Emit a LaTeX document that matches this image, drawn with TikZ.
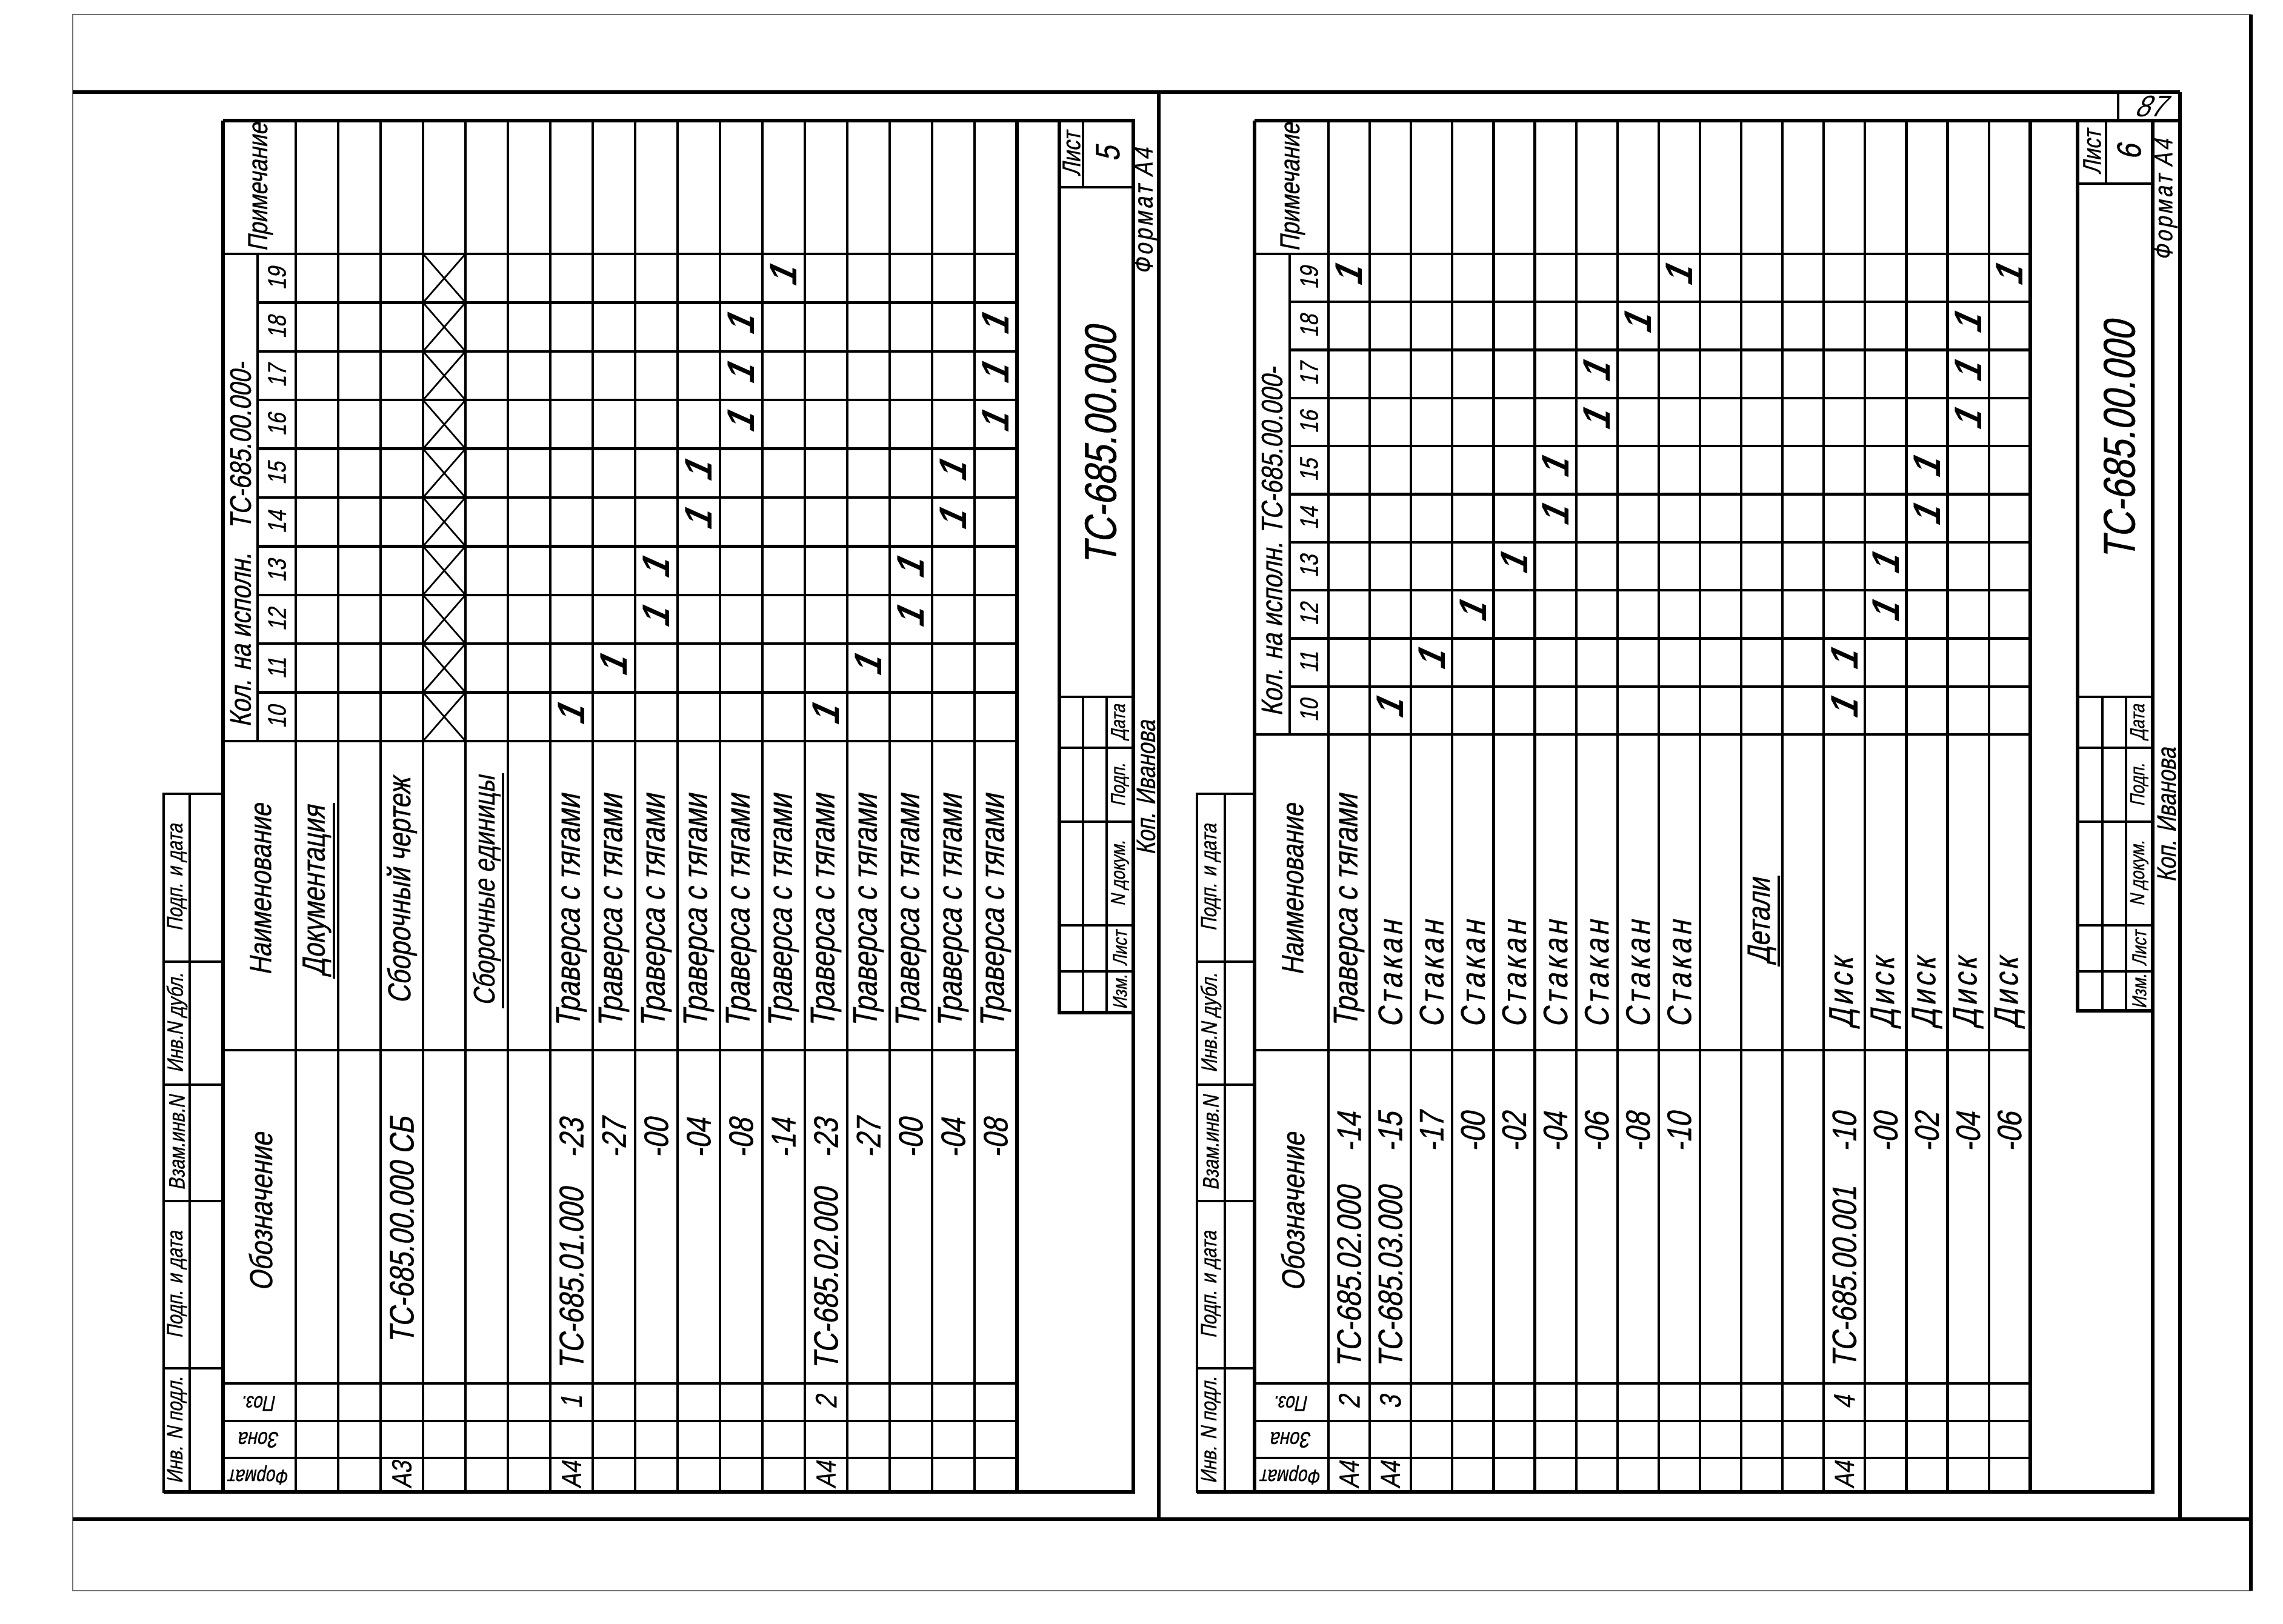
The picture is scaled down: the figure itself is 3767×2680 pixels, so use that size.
\documentclass[tikz,border=0pt]{standalone}
\usepackage{fontspec}
\newfontfamily\gost[FakeStretch=0.8,FakeSlant=0.2,FakeBold=0.5]{Liberation Sans}
\newfontfamily\gostwide[FakeStretch=0.8,FakeSlant=0.2,FakeBold=0.5,LetterSpace=10]{Liberation Sans}
\newfontfamily\gosthand[FakeStretch=0.9,FakeSlant=0.45]{Liberation Sans}
\newcommand{\gfs}[1]{\gost\fontsize{#1}{#1}\selectfont}
\newcommand{\gws}[1]{\gostwide\fontsize{#1}{#1}\selectfont}
\usetikzlibrary{positioning}

\begin{document}
\begin{tikzpicture}[x=0.1mm,y=-0.1mm]
  \tikzstyle{grid} = [line width=1.2pt]
  \tikzstyle{frame} = [line width=1.5pt]
  \tikzstyle{cross} = [line width=0.8pt]
  \tikzstyle{paper} = [line width=0.7pt,black!55]
  \tikzstyle{vtext} = [rotate=90,inner sep=1pt]
  \tikzstyle{udtext} = [rotate=180,inner sep=0pt]
  \tikzstyle{qty} = [rotate=90,inner sep=0pt,font=\gosthand\bfseries\fontsize{18}{18}\selectfont]
  \tikzstyle{uline} = [line width=1.1pt]
  %%
  \useasboundingbox (0,0) rectangle (3767,2680);
  \fill[white] (0,0) rectangle (3767,2680);
  %% paper edge and outer frame
  \draw[paper] (120,24) rectangle (3714,2625);
  \draw[frame] (3714,24) -- (3714,2625);
  \draw[frame] (120,152) -- (3597,152);
  \draw[frame] (120,2507) -- (3714,2507);
  \draw[frame] (1912,152) -- (1912,2507);
  \draw[frame] (3597,152) -- (3597,2507);
  %%
  %% ------------------------- sheet 5 -------------------------
  \begin{scope}
    % frame, table, stamp
    \draw[frame] (368,199) -- (1870,199) -- (1870,2462) -- (270,2462);
    \draw[frame] (368,199) -- (368,2462);
    \draw[frame] (1678,199) -- (1678,2462);
    \draw[grid] (488,199) -- (488,2462);
    \draw[grid] (425,419) -- (425,1223);
    \foreach \r in {1,...,16}
      \draw[grid] ({488+70*\r},199) -- ({488+70*\r},2462);
    \foreach \y in {419,1223,1733,2283,2345,2406}
      \draw[grid] (368,\y) -- (1678,\y);
    \foreach \c in {1,...,9}
      \draw[grid] (425,{419+80.4*\c}) -- (1678,{419+80.4*\c});
    % strip
    \draw[grid] (270,1310) rectangle (313,2462);
    \draw[grid] (313,1310) -- (368,1310);
    \foreach \y in {1587,1790,1982,2258}
      \draw[grid] (270,\y) -- (368,\y);
    % stamp
    \draw[frame] (1748,199) rectangle (1870,1671);
    \draw[grid] (1748,309) -- (1870,309);
    \draw[grid] (1787,199) -- (1787,309);
    \foreach \y in {1150,1234,1356,1527,1603}
      \draw[grid] (1748,\y) -- (1870,\y);
    \draw[grid] (1787,1150) -- (1787,1671);
    \draw[grid] (1826,1150) -- (1826,1671);
    % crossed cells
    \foreach \c in {0,...,9}
      \draw[cross] (698,{419+80.4*\c}) -- (768,{499.4+80.4*\c})
                   (698,{499.4+80.4*\c}) -- (768,{419+80.4*\c});
    %% header
    \node[vtext,font=\gfs{13}] (lprim) at (430,309) {Примечание};
    \node[vtext,font=\gfs{14},anchor=west] (lkol) at (397,1204) {Кол. на исполн.};
    \node[vtext,font=\gfs{14},anchor=west] (lkolts) at (397,878) {ТС-685.00.000-};
    \foreach \n [count=\i from 0] in {10,...,19}
      \node[vtext,font=\gfs{12}] (lk\n) at (457,{1183.2-80.4*\i}) {\n};
    \node[vtext,font=\gfs{14.5}] (lnaim) at (430,1468) {Наименование};
    \node[vtext,font=\gfs{15}] (loboz) at (430,2000) {Обозначение};
    \node[udtext,font=\gfs{10}] (lpoz) at (428,2316) {Поз.};
    \node[udtext,font=\gfs{10.5}] (lzona) at (428,2376) {Зона};
    \node[udtext,font=\gfs{10}] (lform) at (428,2434) {Формат};
    %% strip
    \node[vtext,font=\gfs{10.5}] (lst1) at (292,1448) {Подп. и дата};
    \node[vtext,font=\gfs{10.5}] (lst2) at (292,1688) {Инв.N дубл.};
    \node[vtext,font=\gfs{10.5}] (lst3) at (292,1886) {Взам.инв.N};
    \node[vtext,font=\gfs{10.5}] (lst4) at (292,2120) {Подп. и дата};
    \node[vtext,font=\gfs{10.5}] (lst5) at (292,2360) {Инв. N подл.};
    %% rows
    \node[vtext,font=\gfs{15}] (ldoc) at (523,1470) {Документация};
    \draw[uline] (ldoc.south west) -- (ldoc.south east);
    \node[vtext,font=\gfs{13}] (lf3) at (663,2434) {А3};
    \node[vtext,font=\gfs{16},anchor=west] (ld3) at (663,2222) {ТС-685.00.000 СБ};
    \node[vtext,font=\gfs{15}] (ln3) at (663,1470) {Сборочный чертеж};
    \node[vtext,font=\gfs{14}] (lasm) at (803,1470) {Сборочные единицы};
    \draw[uline] (lasm.south west) -- (lasm.south east);
    \node[vtext,font=\gfs{13}] (lf7) at (943,2434) {А4};
    \node[vtext,font=\gfs{14}] (lp7) at (943,2314) {1};
    \node[vtext,font=\gfs{16},anchor=west] (ld7) at (943,2265) {ТС-685.01.000};
    \node[vtext,font=\gfs{13}] (lf13) at (1363,2434) {А4};
    \node[vtext,font=\gfs{14}] (lp13) at (1363,2314) {2};
    \node[vtext,font=\gfs{16},anchor=west] (ld13) at (1363,2265) {ТС-685.02.000};
    \foreach \r/\s in {7/-23,8/-27,9/-00,10/-04,11/-08,12/-14,13/-23,14/-27,15/-00,16/-04,17/-08}
      \node[vtext,font=\gfs{16},anchor=west] (ls\r) at ({453+70*\r},1915) {\s};
    \foreach \r in {7,...,17}
      \node[vtext,font=\gfs{16},anchor=west] (ln\r) at ({453+70*\r},1700) {Траверса с тягами};
    \foreach \r/\c in {7/10,8/11,9/12,9/13,10/14,10/15,11/16,11/17,11/18,12/19,
                       13/10,14/11,15/12,15/13,16/14,16/15,17/16,17/17,17/18}
      \node[qty] (lq\r-\c) at ({453+70*\r},{1183.2-80.4*(\c-10)}) {1};
    %% stamp texts
    \node[vtext,font=\gfs{12}] (llist) at (1768,254) {Лист};
    \node[vtext,font=\gfs{16}] (lsheet) at (1828,254) {5};
    \node[vtext,font=\gfs{21}] (ltitle) at (1816,736) {ТС-685.00.000};
    \node[vtext,font=\gfs{9.5}] (lizm) at (1848,1637) {Изм.};
    \node[vtext,font=\gfs{9.5}] (llst) at (1848,1565) {Лист};
    \node[vtext,font=\gfs{9.5}] (lndoc) at (1848,1441) {N докум.};
    \node[vtext,font=\gfs{9.5}] (lpodp) at (1848,1295) {Подп.};
    \node[vtext,font=\gfs{9.5}] (ldata) at (1848,1192) {Дата};
    \node[vtext,font=\gws{12.5},anchor=west] (lformat) at (1891,457) {Формат А4};
    \node[vtext,font=\gfs{12.5},anchor=west] (lcopy) at (1891,1415) {Коп. Иванова};
  \end{scope}
  %%
  %% ------------------------- sheet 6 -------------------------
  \begin{scope}
    % frame, table, stamp
    \draw[frame] (2070,199) -- (3597,199);
    \draw[frame] (3552,199) -- (3552,2462) -- (1975,2462);
    \draw[frame] (2070,199) -- (2070,2462);
    \draw[frame] (3350,199) -- (3350,2462);
    \draw[grid] (2192,199) -- (2192,2462);
    \draw[grid] (2128,419) -- (2128,1212);
    \foreach \r in {1,...,16}
      \draw[grid] ({2192+68.1*\r},199) -- ({2192+68.1*\r},2462);
    \foreach \y in {419,1212,1733,2283,2345,2406}
      \draw[grid] (2070,\y) -- (3350,\y);
    \foreach \c in {1,...,9}
      \draw[grid] (2128,{419+79.3*\c}) -- (3350,{419+79.3*\c});
    % strip
    \draw[grid] (1975,1310) rectangle (2021,2462);
    \draw[grid] (2021,1310) -- (2070,1310);
    \foreach \y in {1587,1790,1982,2258}
      \draw[grid] (1975,\y) -- (2070,\y);
    % stamp
    \draw[frame] (3428,199) rectangle (3552,1668);
    \draw[grid] (3428,303) -- (3552,303);
    \draw[grid] (3475,199) -- (3475,303);
    \foreach \y in {1150,1234,1356,1527,1603}
      \draw[grid] (3428,\y) -- (3552,\y);
    \draw[grid] (3469,1150) -- (3469,1668);
    \draw[grid] (3508,1150) -- (3508,1668);
    \draw[grid] (3495,152) -- (3495,199);
    %% header
    \node[vtext,font=\gfs{13}] (rprim) at (2133,309) {Примечание};
    \node[vtext,font=\gfs{14},anchor=west] (rkol) at (2099,1186) {Кол. на исполн.};
    \node[vtext,font=\gfs{14},anchor=west] (rkolts) at (2099,886) {ТС-685.00.000-};
    \foreach \n [count=\i from 0] in {10,...,19}
      \node[vtext,font=\gfs{12}] (rk\n) at (2160,{1172.35-79.3*\i}) {\n};
    \node[vtext,font=\gfs{14.5}] (rnaim) at (2133,1468) {Наименование};
    \node[vtext,font=\gfs{15}] (roboz) at (2133,2000) {Обозначение};
    \node[udtext,font=\gfs{10}] (rpoz) at (2131,2316) {Поз.};
    \node[udtext,font=\gfs{10.5}] (rzona) at (2131,2376) {Зона};
    \node[udtext,font=\gfs{10}] (rform) at (2131,2434) {Формат};
    %% strip
    \node[vtext,font=\gfs{10.5}] (rst1) at (1998,1448) {Подп. и дата};
    \node[vtext,font=\gfs{10.5}] (rst2) at (1998,1688) {Инв.N дубл.};
    \node[vtext,font=\gfs{10.5}] (rst3) at (1998,1886) {Взам.инв.N};
    \node[vtext,font=\gfs{10.5}] (rst4) at (1998,2120) {Подп. и дата};
    \node[vtext,font=\gfs{10.5}] (rst5) at (1998,2360) {Инв. N подл.};
    %% rows
    \foreach \r/\f/\p/\d in {1/А4/2/ТС-685.02.000,2/А4/3/ТС-685.03.000,13/А4/4/ТС-685.00.001}{
      \node[vtext,font=\gfs{13}] (rf\r) at ({2158+68.1*\r},2434) {\f};
      \node[vtext,font=\gfs{14}] (rp\r) at ({2158+68.1*\r},2314) {\p};
      \node[vtext,font=\gfs{16},anchor=west] (rd\r) at ({2158+68.1*\r},2262) {\d};
    }
    \foreach \r/\s in {1/-14,2/-15,3/-17,4/-00,5/-02,6/-04,7/-06,8/-08,9/-10,
                       13/-10,14/-00,15/-02,16/-04,17/-06}
      \node[vtext,font=\gfs{16},anchor=west] (rs\r) at ({2158+68.1*\r},1905) {\s};
    \node[vtext,font=\gfs{16},anchor=west] (rn1) at (2226,1700) {Траверса с тягами};
    \foreach \r in {2,...,9}
      \node[vtext,font=\gws{16},anchor=west] (rn\r) at ({2158+68.1*\r},1700) {Стакан};
    \node[vtext,font=\gfs{15}] (rdet) at (2907,1520) {Детали};
    \draw[uline] (rdet.south west) -- (rdet.south east);
    \foreach \r in {13,...,17}
      \node[vtext,font=\gws{16},anchor=west] (rn\r) at ({2158+68.1*\r},1700) {Диск};
    \foreach \r/\c in {1/19,2/10,3/11,4/12,5/13,6/14,6/15,7/16,7/17,8/18,9/19,
                       13/10,13/11,14/12,14/13,15/14,15/15,16/16,16/17,16/18,17/19}
      \node[qty] (rq\r-\c) at ({2158+68.1*\r},{1172.35-79.3*(\c-10)}) {1};
    %% stamp texts
    \node[font=\gosthand\fontsize{14}{14}\selectfont] (rcount) at (3546,176) {87};
    \node[vtext,font=\gfs{12}] (rlist) at (3452,251) {Лист};
    \node[vtext,font=\gfs{16}] (rsheet) at (3513,251) {6};
    \node[vtext,font=\gfs{21}] (rtitle) at (3497,727) {ТС-685.00.000};
    \node[vtext,font=\gfs{9.5}] (rizm) at (3530,1636) {Изм.};
    \node[vtext,font=\gfs{9.5}] (rlst) at (3530,1565) {Лист};
    \node[vtext,font=\gfs{9.5}] (rndoc) at (3530,1441) {N докум.};
    \node[vtext,font=\gfs{9.5}] (rpodp) at (3530,1295) {Подп.};
    \node[vtext,font=\gfs{9.5}] (rdata) at (3530,1192) {Дата};
    \node[vtext,font=\gws{12},anchor=west] (rformat) at (3574,434) {Формат А4};
    \node[vtext,font=\gfs{12.5},anchor=west] (rcopy) at (3575,1460) {Коп. Иванова};
  \end{scope}
\end{tikzpicture}
\end{document}
